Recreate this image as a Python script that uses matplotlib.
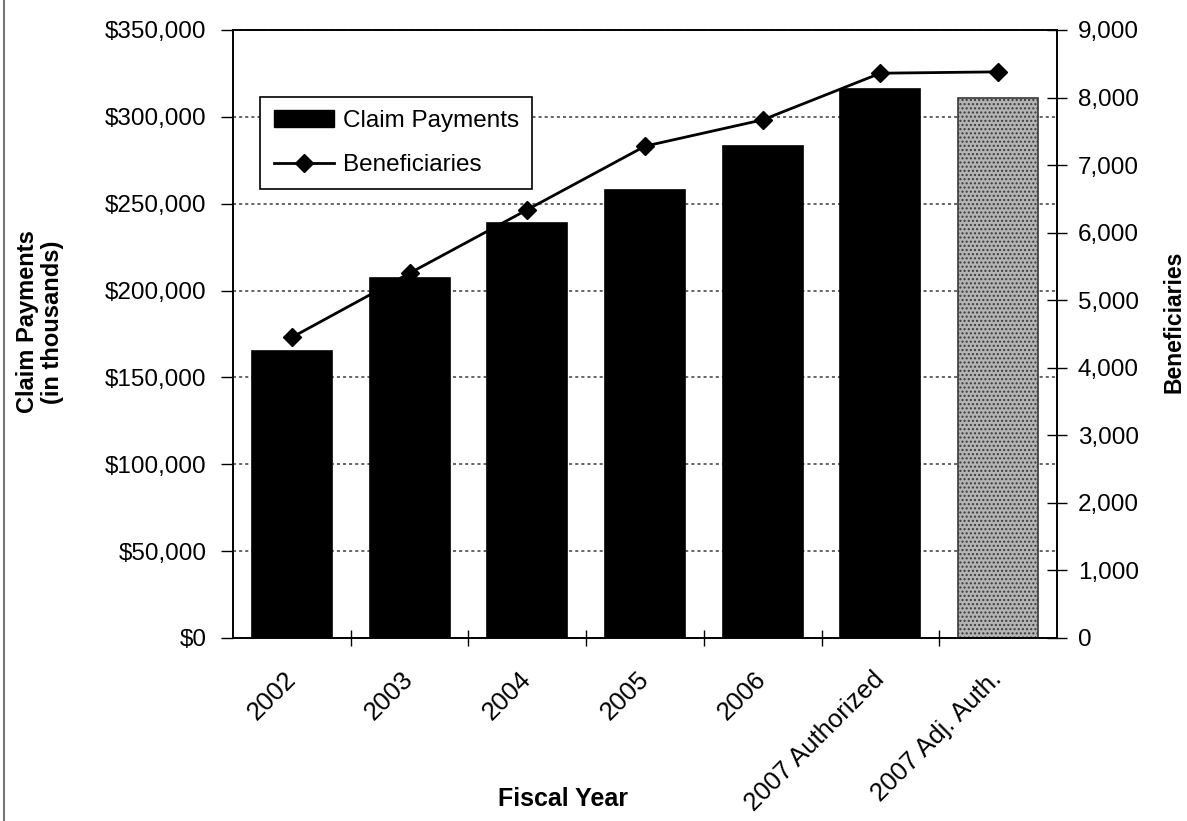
import matplotlib.pyplot as plt
import matplotlib.ticker as mticker
from matplotlib.lines import Line2D
from matplotlib.patches import Patch

# values
years = ['2002', '2003', '2004', '2005', '2006', '2007 Authorized', '2007 Adj. Auth.']
claims = [165000, 207000, 239000, 258000, 283000, 316000, 311000]   # $ thousands
benef = [4450, 5400, 6340, 7280, 7670, 8360, 8380]

plt.rcParams['font.family'] = ['Liberation Sans', 'DejaVu Sans']

fig = plt.figure(figsize=(11.87, 8.21), dpi=100)
ax = fig.add_axes([0.1963, 0.2229, 0.6942, 0.7406])
ax2 = ax.twinx()

x = list(range(len(years)))
colors = ['black'] * 6 + ['#b4b4b4']
bars = ax.bar(x, claims, width=0.68, color=colors, edgecolor='black', linewidth=1.2, zorder=2)
bars[-1].set_hatch('....')
bars[-1].set_edgecolor('#3a3a3a')

ax2.plot(x, benef, color='black', lw=2, marker='D', ms=9, zorder=3)

ax.set_xlim(-0.5, len(years) - 0.5)
ax.set_ylim(0, 350000)
ax2.set_ylim(0, 9000)

ax.yaxis.set_major_locator(mticker.MultipleLocator(50000))
ax.yaxis.set_major_formatter(mticker.FuncFormatter(lambda v, p: '${:,.0f}'.format(v)))
ax2.yaxis.set_major_locator(mticker.MultipleLocator(1000))
ax2.yaxis.set_major_formatter(mticker.FuncFormatter(lambda v, p: '{:,.0f}'.format(v)))

ax.set_axisbelow(True)
ax.yaxis.grid(True, color='#3c3c3c', linestyle=(0, (2, 2)), linewidth=1.1)

# category boundary ticks on the x axis
ax.set_xticks([i + 0.5 for i in range(len(years) - 1)], minor=False)
ax.set_xticklabels([])
ax.tick_params(axis='x', direction='inout', length=12, width=1)
ax.set_xticks(x, minor=True)
ax.set_xticklabels(years, minor=True, rotation=45, ha='right', va='center',
                   rotation_mode='anchor', fontsize=18.5)
ax.tick_params(axis='x', which='minor', length=0, pad=27)

ax.tick_params(axis='y', direction='out', length=9, width=1, labelsize=17.5, pad=10)
ax2.tick_params(axis='y', direction='inout', length=14, width=1, labelsize=17.5, pad=8)

for a in (ax, ax2):
    for s in a.spines.values():
        s.set_linewidth(1.2)

ax.set_ylabel('Claim Payments\n(in thousands)', fontsize=17, fontweight='bold', linespacing=1.1)
ax.yaxis.set_label_coords(-0.205, 0.52)
ax2.set_ylabel('Beneficiaries', fontsize=16.5, fontweight='bold')
ax2.yaxis.set_label_coords(1.128, 0.52)
ax.set_xlabel('Fiscal Year', fontsize=18, fontweight='bold')
ax.xaxis.set_label_coords(0.40, -0.245)

handles = [Patch(facecolor='black', edgecolor='black'),
           Line2D([], [], color='black', lw=2, marker='D', ms=9)]
leg = ax2.legend(handles, ['Claim Payments', 'Beneficiaries'], loc='upper left',
                 bbox_to_anchor=(0.033, 0.89), borderaxespad=0, fontsize=17.5,
                 frameon=True, fancybox=False, edgecolor='black', framealpha=1,
                 handlelength=2.5, handleheight=0.7, handletextpad=0.35,
                 borderpad=0.55, labelspacing=0.9)
leg.get_frame().set_linewidth(1.2)

fig.add_artist(Line2D([0.003, 0.003], [0, 1], color='#777777', lw=1.5, transform=fig.transFigure))

fig.savefig('out.png', dpi=100)
